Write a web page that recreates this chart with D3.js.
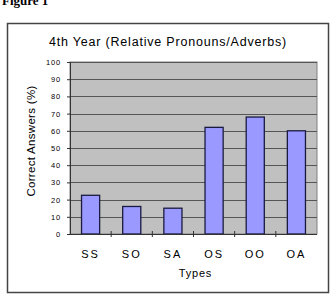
<!DOCTYPE html>
<html><head><meta charset="utf-8">
<script src="https://cdn.jsdelivr.net/npm/d3@7"></script>
<style>body{margin:0;background:#fff}svg{display:block}</style>
</head><body>
<svg id="c" width="335" height="296"></svg>
<script>
const categories = ["SS","SO","SA","OS","OO","OA"];
const values = [22.5, 16, 15, 62, 68, 60];
const yTicks = [0,10,20,30,40,50,60,70,80,90,100];

const svg = d3.select("#c");
const F = "'Liberation Sans', Arial, sans-serif";

svg.append("text").attr("x",2).attr("y",5).attr("font-family","'Liberation Serif', serif")
  .attr("font-weight","bold").attr("font-size",13).attr("fill","#000").text("Figure 1");

svg.append("rect").attr("x",7.5).attr("y",23.5).attr("width",321).attr("height",269)
  .attr("fill","#fff").attr("stroke","#444").attr("stroke-width",1.5);

const m = {l:70, r:317, t:62, b:234};
const x = d3.scaleBand().domain(categories).range([m.l,m.r]).paddingInner(0.56).paddingOuter(0.28);
const xb = d3.scaleBand().domain(categories).range([m.l,m.r]);
const y = d3.scaleLinear().domain([0,100]).range([m.b,m.t]);

svg.append("rect").attr("x",m.l).attr("y",m.t).attr("width",m.r-m.l).attr("height",m.b-m.t)
  .attr("fill","#c0c0c0").attr("stroke","#808080").attr("stroke-width",1);

svg.append("g").selectAll("line").data(yTicks.slice(1)).join("line")
  .attr("x1",m.l).attr("x2",m.r).attr("y1",d=>Math.round(y(d))+0.5).attr("y2",d=>Math.round(y(d))+0.5)
  .attr("stroke","#555").attr("stroke-width",1);

svg.append("g").selectAll("rect").data(values).join("rect")
  .attr("x",(d,i)=>x(categories[i])).attr("width",x.bandwidth())
  .attr("y",d=>y(d)).attr("height",d=>m.b-y(d))
  .attr("fill","#9999ff").attr("stroke","#1a1a40").attr("stroke-width",1.3);

// y axis
const ya = svg.append("g").attr("transform",`translate(${m.l},0)`)
  .call(d3.axisLeft(y).tickValues(yTicks).tickSize(3).tickPadding(6));
ya.select(".domain").attr("stroke","#333");
ya.selectAll("line").attr("stroke","#333");
ya.selectAll("text").attr("font-family",F).attr("font-size",7.5).attr("letter-spacing",0.8).attr("fill","#000");

// x axis
svg.append("line").attr("x1",m.l).attr("x2",m.r).attr("y1",m.b+0.5).attr("y2",m.b+0.5).attr("stroke","#333").attr("stroke-width",1.2);
svg.append("g").selectAll("line").data(categories.slice(1)).join("line")
  .attr("x1",d=>xb(d)).attr("x2",d=>xb(d)).attr("y1",m.b-3).attr("y2",m.b+3).attr("stroke","#333");
svg.append("g").selectAll("text").data(categories).join("text")
  .attr("x",d=>xb(d)+xb.bandwidth()/2).attr("y",258).attr("text-anchor","middle")
  .attr("font-family",F).attr("font-size",11).attr("letter-spacing",2).attr("fill","#000").text(d=>d);

svg.append("text").attr("x",(m.l+m.r)/2+2).attr("y",277).attr("text-anchor","middle")
  .attr("font-family",F).attr("font-size",11).attr("letter-spacing",0.8).text("Types");

svg.append("text").attr("transform",`translate(35,${(80+202)/2}) rotate(-90)`).attr("text-anchor","middle")
  .attr("font-family",F).attr("font-size",11.5).attr("letter-spacing",0.3).text("Correct Answers (%)");

svg.append("text").attr("x",168).attr("y",46).attr("text-anchor","middle")
  .attr("font-family",F).attr("font-size",12.5).attr("letter-spacing",0.8).text("4th Year (Relative Pronouns/Adverbs)");
</script>
</body></html>
